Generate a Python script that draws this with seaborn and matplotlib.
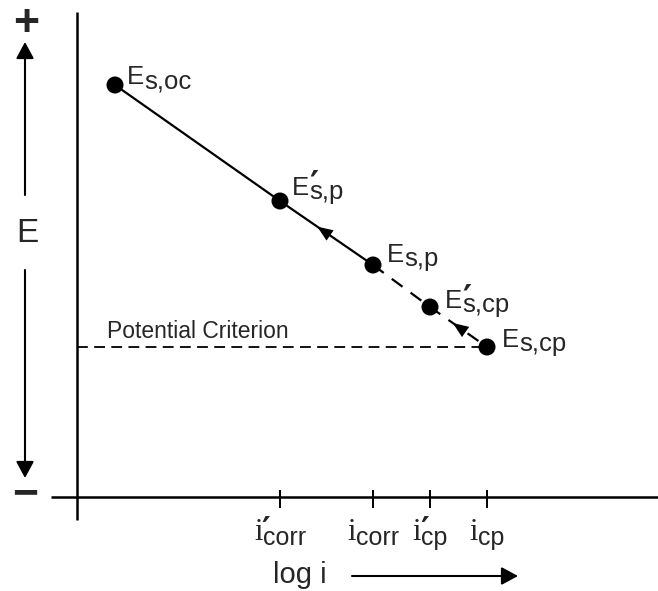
import matplotlib
matplotlib.use("Agg")
import matplotlib.pyplot as plt
import matplotlib.transforms as mtransforms
from matplotlib.patches import FancyArrowPatch
import seaborn as sns
import pandas as pd

# ---------------- data (schematic units) ----------------
point_names = ["Es,oc", "E's,p", "Es,p", "E's,cp", "Es,cp"]
log_i = [3.8, 20.3, 29.6, 35.3, 41.0]
E_vals = [41.2, 29.6, 23.2, 19.0, 15.0]
# label pieces: (main, prime?, subscript)
point_main = ["E", "E", "E", "E", "E"]
point_prime = [False, True, False, True, False]
point_sub = ["s,oc", "s,p", "s,p", "s,cp", "s,cp"]

tick_pos = [20.3, 29.6, 35.3, 41.0]
tick_main = ["i", "i", "i", "i"]
tick_prime = [True, False, True, False]
tick_sub = ["corr", "corr", "cp", "cp"]

criterion_E = 15.0
criterion_text = "Potential Criterion"
x_label = "log i"
y_label = "E"

# ---------------- figure ----------------
sns.set_style("white")
plt.rcParams["font.family"] = ["Liberation Sans", "DejaVu Sans"]
W, H = 658, 591
fig = plt.figure(figsize=(W / 100, H / 100), dpi=100)
ax = fig.add_axes([0, 0, 1, 1])
ax.set_xlim(-7.7, 58.1)
ax.set_ylim(-9.4, 49.7)
ax.axis("off")

# pixel transform (origin top-left) for decorations
px = mtransforms.Affine2D().scale(1, -1).translate(0, H)

# axes lines
ax.plot([0, 0], [-2.3, 48.5], color="k", lw=1.8, solid_capstyle="butt")
ax.plot([-2.6, 58.1], [0, 0], color="k", lw=1.8, solid_capstyle="butt")
for t in tick_pos:
    ax.plot([t, t], [0.7, -1.1], color="k", lw=1.4, solid_capstyle="butt")

# criterion line
ax.plot([0, log_i[-1]], [criterion_E, criterion_E], color="k", lw=1.3,
        linestyle=(0, (6, 3.5)))

df = pd.DataFrame({"log_i": log_i, "E": E_vals, "name": point_names})
# solid part: oc -> Es,p
sns.lineplot(data=df.iloc[0:3], x="log_i", y="E", sort=False, ax=ax,
             color="k", lw=1.6, estimator=None)
# dashed part: Es,p -> Es,cp
sns.lineplot(data=df.iloc[2:5], x="log_i", y="E", sort=False, ax=ax,
             color="k", lw=1.6, estimator=None, linestyle=(0, (6, 4.5)))
sns.scatterplot(data=df, x="log_i", y="E", ax=ax, color="k", s=150,
                edgecolor="none", zorder=5)
ax.set_xlim(-7.7, 58.1)
ax.set_ylim(-9.4, 49.7)
ax.set_xlabel("")
ax.set_ylabel("")


# arrow heads on the curve (pointing to lower current)
def head(p0, p1, frac):
    x0, y0 = p0
    x1, y1 = p1
    tx, ty = x0 + (x1 - x0) * frac, y0 + (y1 - y0) * frac
    bx, by = tx + (x1 - x0) * 0.35, ty + (y1 - y0) * 0.35
    a = FancyArrowPatch((bx, by), (tx, ty),
                        arrowstyle="-|>,head_length=0.75,head_width=0.3",
                        mutation_scale=15, lw=0, color="k",
                        shrinkA=0, shrinkB=0, zorder=6)
    ax.add_patch(a)


head((log_i[1], E_vals[1]), (log_i[2], E_vals[2]), 0.40)
head((log_i[3], E_vals[3]), (log_i[4], E_vals[4]), 0.40)

renderer = fig.canvas.get_renderer()


def compose(x, y, pieces, base, dx=0.0, dy=0.0, center=False):
    """pieces: list of (text, kwargs, dy_px, dx_px, advance)."""
    items = []
    for s, kw, ddy, ddx, adv in pieces:
        t = ax.text(x, y, s, ha="left", va="baseline", transform=base, **kw)
        w = t.get_window_extent(renderer).width
        items.append((t, w, ddy, ddx, adv))
    total = sum(it[1] for it in items if it[4])
    cur = -total / 2 if center else 0.0
    for t, w, ddy, ddx, adv in items:
        t.set_transform(mtransforms.offset_copy(base, fig=fig,
                                                x=dx + cur + ddx,
                                                y=dy - ddy, units="dots"))
        if adv:
            cur += w


lab_fs = 18.5
sans = dict(fontsize=lab_fs, family=["Liberation Sans", "DejaVu Sans"])
prime_kw = dict(fontsize=25, family=["DejaVu Sans"], fontweight="bold")
label_dx = [12, 12, 14, 15, 15]
label_dy = [1, 6, 3, -1, 0]
for i in range(len(log_i)):
    pieces = [(point_main[i], sans, 0, 0, True)]
    if point_prime[i]:
        pieces.append(("\u2032", prime_kw, 1, 0, False))
    pieces.append((point_sub[i], sans, 4, 0, True))
    compose(log_i[i], E_vals[i], pieces, ax.transData,
            dx=label_dx[i], dy=label_dy[i])

serif = dict(fontsize=22, family=["Liberation Serif", "DejaVu Serif"])
tsub = dict(fontsize=18, family=["Liberation Sans", "DejaVu Sans"])
for i, t in enumerate(tick_pos):
    pieces = [(tick_main[i], serif, 0, 0, True)]
    if tick_prime[i]:
        pieces.append(("\u2032", dict(fontsize=24, family=["DejaVu Sans"],
                                      fontweight="bold"), 1, -1, False))
    pieces.append((tick_sub[i], tsub, 5, 0, True))
    compose(t, 0, pieces, ax.transData, dy=-43, center=True)

# criterion label
ax.text(107, 338, criterion_text, transform=px, fontsize=16.5,
        ha="left", va="baseline")

# E axis label with double arrow
ax.text(27, 233, y_label, transform=px, fontsize=24, ha="center", va="center")
ax.text(26, 24, "+", transform=px, fontsize=32, fontweight="bold",
        ha="center", va="center")
ax.text(25, 495, "\u2212", transform=px, fontsize=32, fontweight="bold",
        ha="center", va="center")


def arrow_px(p0, p1):
    a = FancyArrowPatch(p0, p1, transform=px,
                        arrowstyle="-|>,head_length=0.5,head_width=0.27",
                        mutation_scale=20, lw=1.5, color="k",
                        shrinkA=0, shrinkB=0)
    ax.add_patch(a)


arrow_px((25, 195), (25, 42))
arrow_px((25, 270), (25, 478))

# x label with arrow
ax.text(300, 583, x_label, transform=px, fontsize=21, ha="center",
        va="baseline")
arrow_px((352, 576), (518, 576))

fig.savefig("out.png", dpi=100)
